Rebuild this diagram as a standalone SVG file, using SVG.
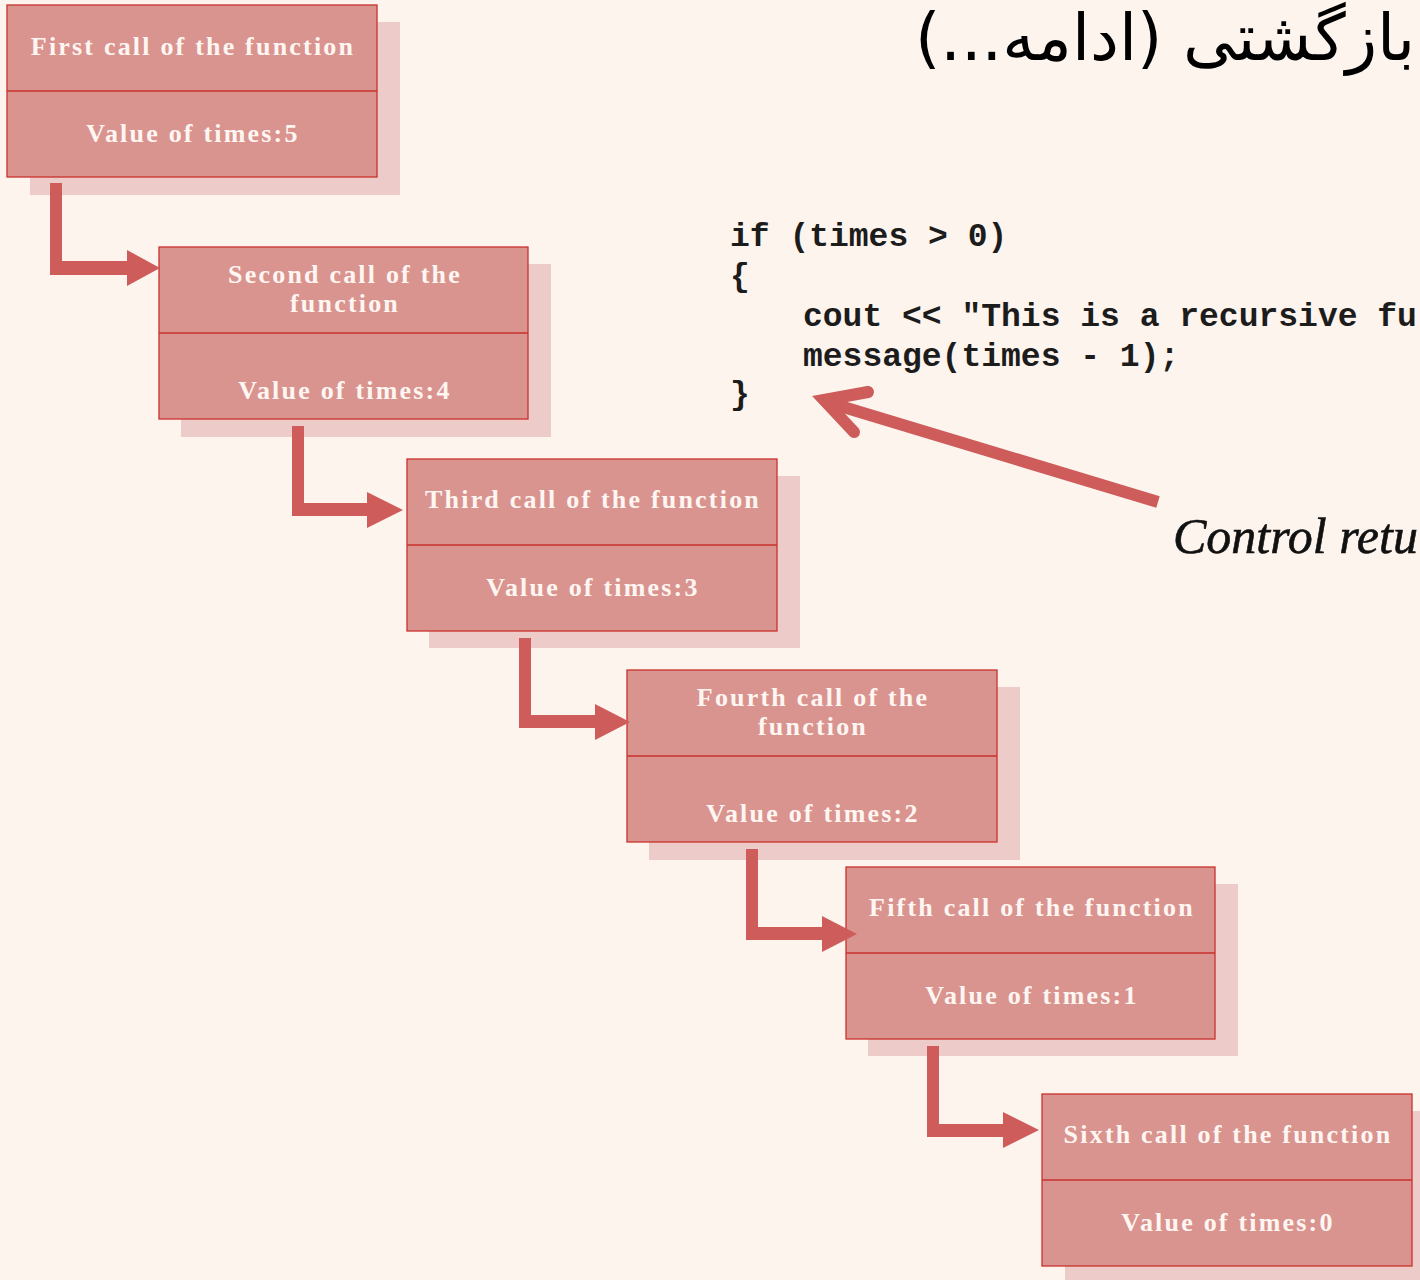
<svg xmlns="http://www.w3.org/2000/svg" width="1420" height="1280" viewBox="0 0 1420 1280">
<style>
.bg{fill:#fef4ee}
.shadow{fill:#edcbc8}
.box{fill:#d99490;stroke:#c9302c;stroke-width:1.3}
.div{stroke:#c9302c;stroke-width:1.3}
.lbl{font-family:"Liberation Serif","Times New Roman",serif;font-weight:bold;font-size:26px;letter-spacing:2.2px;fill:#fff6f2;text-anchor:middle}
.code{font-family:"Liberation Mono","Courier New",monospace;font-weight:bold;font-size:33px;fill:#1c1c1c}
.conn{fill:#cd5c5a}
.big{fill:none;stroke:#cd5c5a;stroke-width:12}
</style>
<rect class="bg" x="0" y="0" width="1420" height="1280"/>

<text x="1415" y="60" direction="rtl" text-anchor="start" font-family="'DejaVu Sans','Noto Sans',sans-serif" font-size="65" fill="#000">بازگشتی (ادامه...)</text>

<g id="code">
<text class="code" x="730" y="246">if (times &gt; 0)</text>
<text class="code" x="730" y="286">{</text>
<text class="code" x="803" y="326">cout &lt;&lt; "This is a recursive fu</text>
<text class="code" x="803" y="366">message(times - 1);</text>
<text class="code" x="730" y="404">}</text>
</g>

<text id="control-label" x="1173" y="553" font-family="'Liberation Serif','Times New Roman',serif" font-style="italic" font-size="50" fill="#111" stroke="#111" stroke-width="0.6">Control retu</text>

<g id="call1">
<rect class="shadow" x="30" y="22" width="370" height="173"/>
<rect class="box" x="7" y="5" width="370" height="172"/>
<line class="div" x1="7" y1="91" x2="377" y2="91"/>
<text class="lbl" x="193" y="55">First call of the function</text>
<text class="lbl" x="193" y="142">Value of times:5</text>
</g>

<g id="call2">
<rect class="shadow" x="181" y="264" width="370" height="173"/>
<rect class="box" x="159" y="247" width="369" height="172"/>
<line class="div" x1="159" y1="333" x2="528" y2="333"/>
<text class="lbl" x="345" y="283">Second call of the</text>
<text class="lbl" x="345" y="312">function</text>
<text class="lbl" x="345" y="399">Value of times:4</text>
</g>

<g id="call3">
<rect class="shadow" x="429" y="476" width="371" height="172"/>
<rect class="box" x="407" y="459" width="370" height="172"/>
<line class="div" x1="407" y1="545" x2="777" y2="545"/>
<text class="lbl" x="593" y="508">Third call of the function</text>
<text class="lbl" x="593" y="596">Value of times:3</text>
</g>

<g id="call4">
<rect class="shadow" x="649" y="687" width="371" height="173"/>
<rect class="box" x="627" y="670" width="370" height="172"/>
<line class="div" x1="627" y1="756" x2="997" y2="756"/>
<text class="lbl" x="813" y="706">Fourth call of the</text>
<text class="lbl" x="813" y="735">function</text>
<text class="lbl" x="813" y="822">Value of times:2</text>
</g>

<g id="call5">
<rect class="shadow" x="868" y="884" width="370" height="172"/>
<rect class="box" x="846" y="867" width="369" height="172"/>
<line class="div" x1="846" y1="953" x2="1215" y2="953"/>
<text class="lbl" x="1032" y="916">Fifth call of the function</text>
<text class="lbl" x="1032" y="1004">Value of times:1</text>
</g>

<g id="call6">
<rect class="shadow" x="1065" y="1111" width="370" height="172"/>
<rect class="box" x="1042" y="1094" width="370" height="172"/>
<line class="div" x1="1042" y1="1180" x2="1412" y2="1180"/>
<text class="lbl" x="1228" y="1143">Sixth call of the function</text>
<text class="lbl" x="1228" y="1231">Value of times:0</text>
</g>

<g id="connectors">
<path class="conn" d="M50 183H62V261H127V250L160 268L127 286V275H50Z"/>
<path class="conn" d="M292 426H304V503H367V492L403 510L367 528V516H292Z"/>
<path class="conn" d="M519 638H531V715H595V704L630 722L595 740V728H519Z"/>
<path class="conn" d="M746 849H758V927H822V916L857 934L822 952V940H746Z"/>
<path class="conn" d="M927 1046H939V1124H1003V1112L1039 1130L1003 1148V1137H927Z"/>
<line class="big" x1="1158" y1="502" x2="830" y2="403" stroke-linecap="butt"/>
<path class="big" d="M868 392L824 400L854 432" stroke-linecap="round" stroke-linejoin="miter"/>
</g>
</svg>
